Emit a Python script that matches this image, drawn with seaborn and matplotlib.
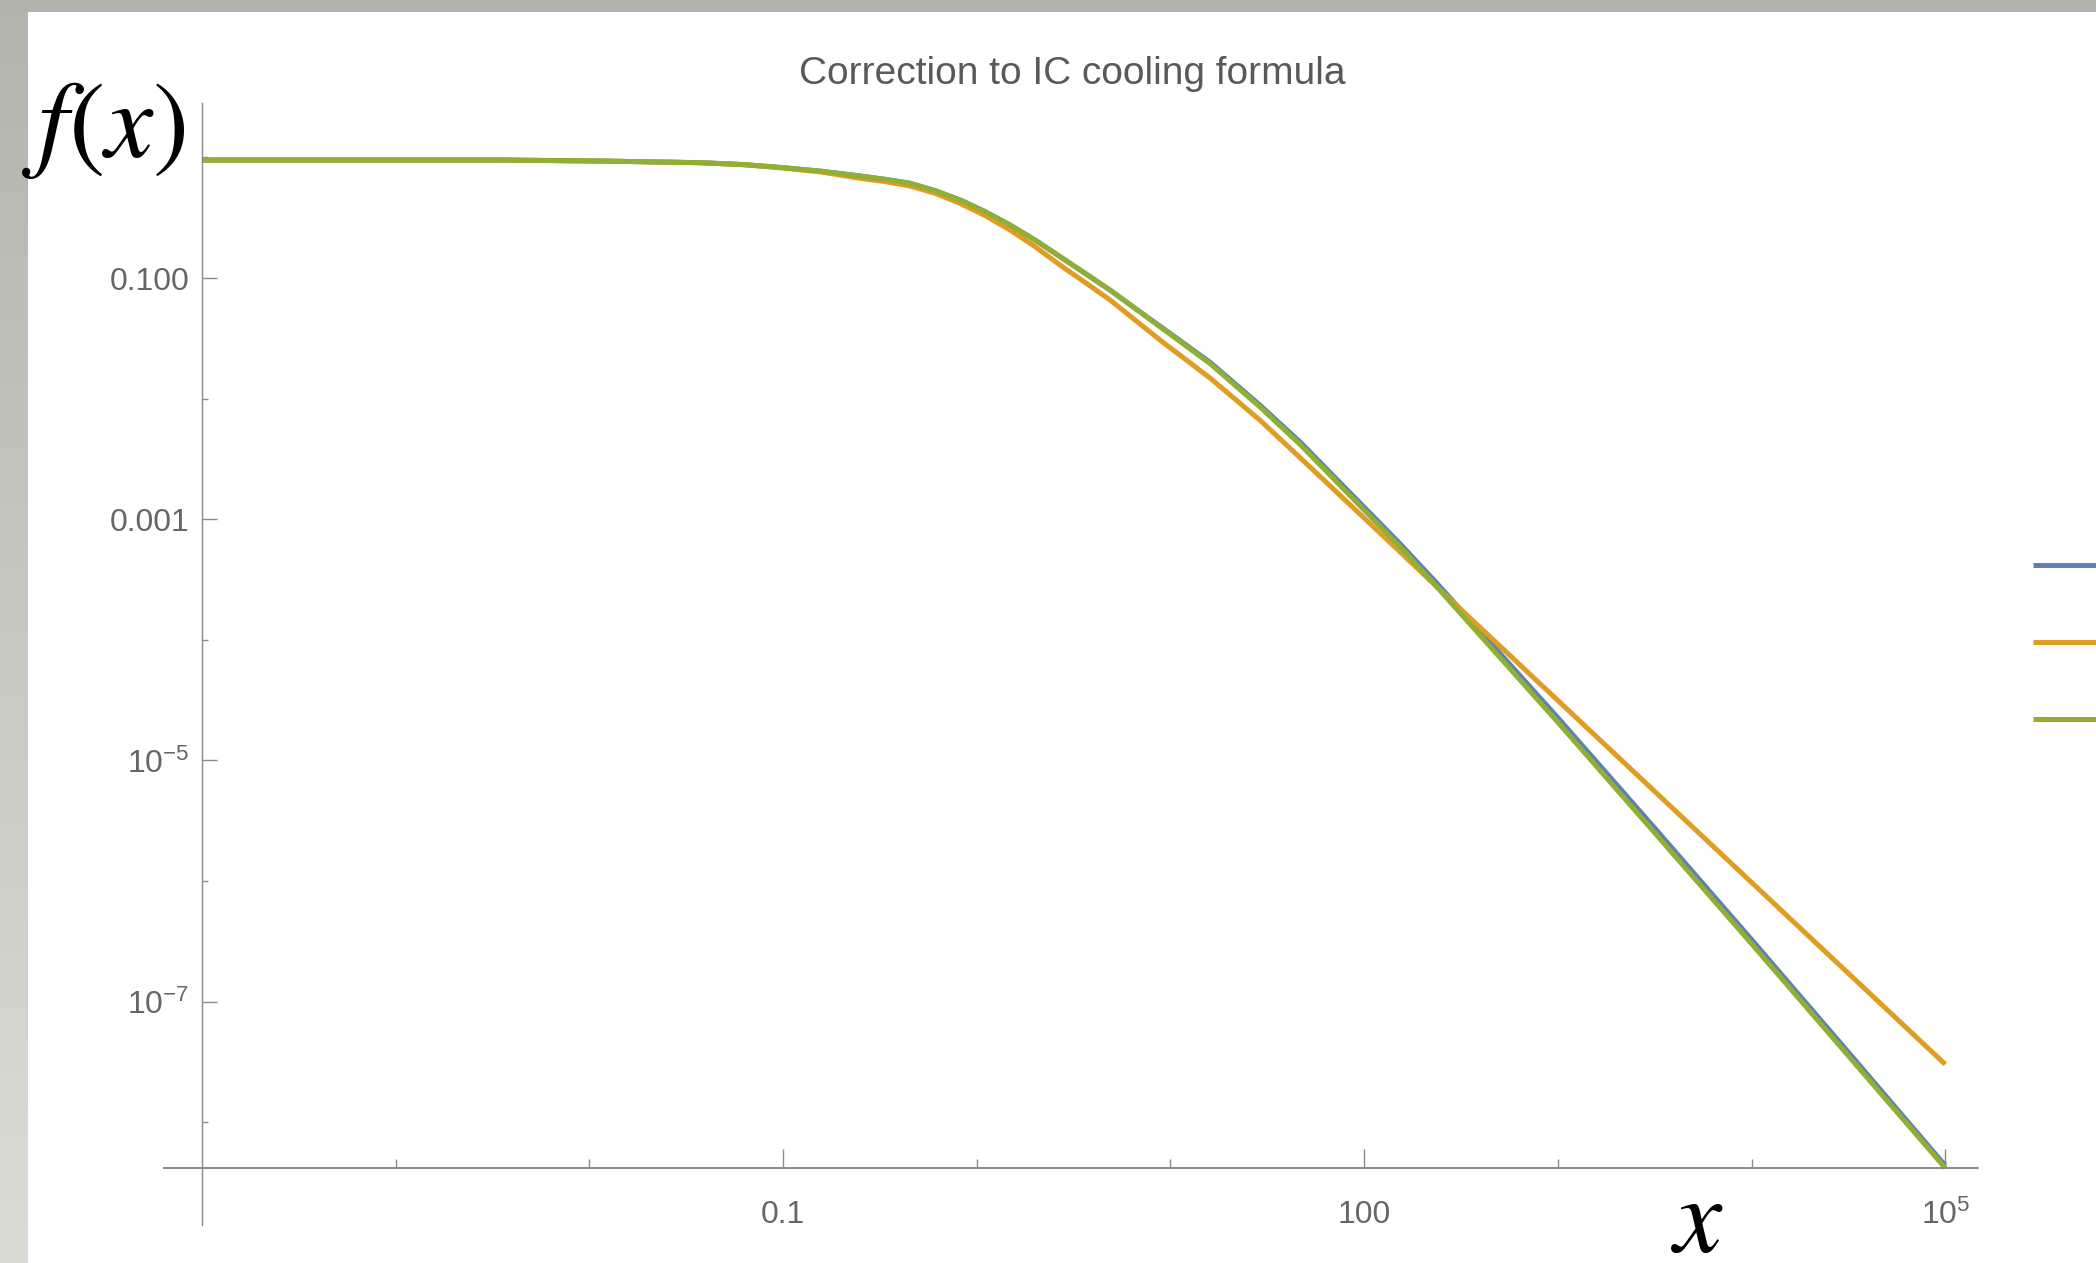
import numpy as np
import pandas as pd
import matplotlib
matplotlib.use("Agg")
import matplotlib.pyplot as plt
import matplotlib.ticker as mticker
import seaborn as sns
from matplotlib.lines import Line2D
from matplotlib.patches import Rectangle
from matplotlib.colors import LinearSegmentedColormap

# ---------------- data ----------------
x_common = [1e-4, 0.00347, 0.01135, 0.0373, 0.0631, 0.1, 0.1585, 0.250, 0.3362, 0.453, 0.609,
            0.820, 1.104, 1.486, 2.000, 2.692, 3.622, 4.875, 6.561, 8.831, 16.02, 29.01, 46.67,
            153.1, 237.1, 1e3, 3162.0, 1e4, 31623.0, 1e5]
f_blue = [0.951, 0.951, 0.933, 0.904, 0.871, 0.822, 0.767, 0.701, 0.658, 0.610, 0.530,
          0.444, 0.355, 0.275, 0.2065, 0.1503, 0.1094, 0.0794, 0.0561, 0.0399, 0.0200, 0.00881, 0.00437,
          6.27e-4, 2.95e-4, 2.26e-5, 2.75e-6, 3.27e-7, 3.80e-8, 4.37e-9]
f_green = [0.951, 0.951, 0.933, 0.904, 0.871, 0.822, 0.767, 0.701, 0.658, 0.610, 0.530,
           0.444, 0.355, 0.275, 0.2065, 0.1503, 0.1094, 0.0794, 0.0561, 0.0394, 0.0195, 0.00851, 0.00417,
           5.92e-4, 2.75e-4, 2.07e-5, 2.51e-6, 3.02e-7, 3.55e-8, 4.17e-9]
x_orange = [1e-4, 0.00347, 0.01135, 0.0373, 0.0631, 0.1, 0.1585, 0.250, 0.3362, 0.453, 0.609,
            0.820, 1.104, 1.486, 2.000, 2.692, 3.622, 4.875, 6.561, 8.831, 16.02, 29.01, 46.67,
            153.1, 237.1, 1786.0, 6607.0, 1e5]
f_orange = [0.951, 0.951, 0.933, 0.904, 0.869, 0.817, 0.755, 0.671, 0.630, 0.579, 0.504,
            0.416, 0.329, 0.250, 0.182, 0.128, 0.0920, 0.0658, 0.0449, 0.0306, 0.0148, 0.00661, 0.00324,
            5.37e-4, 2.75e-4, 1.31e-5, 1.82e-6, 3.02e-8]
series_names = ["curve 1", "curve 2", "curve 3"]
series_colors = ["#5E81B5", "#E19C24", "#8FB032"]

x_ticks_major = [1e-1, 1e2, 1e5]
x_tick_labels = ["0.1", "100", "$10^{5}$"]
x_ticks_minor = [1e-3, 1e-2, 1e0, 1e1, 1e3, 1e4]
y_ticks_major = [1e-1, 1e-3, 1e-5, 1e-7]
y_tick_labels = ["0.100", "0.001", "$10^{-5}$", "$10^{-7}$"]
y_ticks_minor = [1e0, 1e-2, 1e-4, 1e-6, 1e-8]
title_text = "Correction to IC cooling formula"

df = pd.concat([
    pd.DataFrame({"x": x_common, "f": f_blue, "series": series_names[0]}),
    pd.DataFrame({"x": x_orange, "f": f_orange, "series": series_names[1]}),
    pd.DataFrame({"x": x_common, "f": f_green, "series": series_names[2]}),
], ignore_index=True)

# ---------------- style ----------------
sns.set_theme(style="white")
plt.rcParams["font.family"] = ["Liberation Sans", "DejaVu Sans"]
plt.rcParams["mathtext.fontset"] = "custom"
plt.rcParams["mathtext.rm"] = "Liberation Sans"
plt.rcParams["mathtext.it"] = "Liberation Sans:italic"
plt.rcParams["mathtext.bf"] = "Liberation Sans:bold"

W, H = 2096, 1263
fig = plt.figure(figsize=(W / 100, H / 100), dpi=100)
fig.patch.set_facecolor("white")

# background frame (grey strips)
bg = fig.add_axes([0, 0, 28 / W, 1], zorder=-10)
grad = LinearSegmentedColormap.from_list("g", ["#dcdcd5", "#b4b3ac"])
bg.imshow(np.linspace(0, 1, 256).reshape(-1, 1), aspect="auto", cmap=grad, origin="lower",
          extent=[0, 1, 0, 1])
bg.set_axis_off()
fig.patches.append(Rectangle((0, 1 - 12 / H), 1, 12 / H, transform=fig.transFigure,
                             facecolor="#b3b2ab", edgecolor="none", zorder=-9))

# main axes
left_px, right_px, top_px, bottom_px = 164, 1978, 103, 1225
ax = fig.add_axes([left_px / W, 1 - bottom_px / H, (right_px - left_px) / W, (bottom_px - top_px) / H])
ax.set_facecolor("none")
ax.set_xscale("log")
ax.set_yscale("log")

sns.lineplot(data=df, x="x", y="f", hue="series", palette=series_colors,
             hue_order=series_names, linewidth=3.6, legend=False, ax=ax, sort=False)
for ln in ax.lines:
    ln.set_solid_capstyle("butt")
    ln.set_solid_joinstyle("round")

ax.set_xlim(6.37e-5, 1.4757e5)
ax.set_ylim(1.406e-9, 2.825)
ax.set_xlabel("")
ax.set_ylabel("")

axis_col = "#8a8a8a"
for s in ["top", "right"]:
    ax.spines[s].set_visible(False)
ax.spines["left"].set_position(("data", min(x_common)))
ax.spines["bottom"].set_position(("data", min(f_green)))
ax.spines["left"].set_color(axis_col)
ax.spines["bottom"].set_color(axis_col)
ax.spines["left"].set_linewidth(1.0)
ax.spines["bottom"].set_linewidth(1.4)

ax.set_xticks(x_ticks_major, labels=x_tick_labels)
ax.set_xticks(x_ticks_minor, minor=True)
ax.set_yticks(y_ticks_major, labels=y_tick_labels)
ax.set_yticks(y_ticks_minor, minor=True)
ax.xaxis.set_minor_formatter(mticker.NullFormatter())
ax.yaxis.set_minor_formatter(mticker.NullFormatter())

ax.tick_params(axis="x", which="major", direction="in", length=13.5, width=1.0, color=axis_col,
               labelsize=23, labelcolor="#666666", pad=23, bottom=True)
ax.tick_params(axis="x", which="minor", direction="in", length=6.5, width=1.0, color=axis_col, bottom=True)
ax.tick_params(axis="y", which="major", direction="in", length=10.5, width=1.0, color=axis_col,
               labelsize=23, labelcolor="#666666", pad=9, left=True)
ax.tick_params(axis="y", which="minor", direction="in", length=4.5, width=1.0, color=axis_col, left=True)

# title
fig.text(1072 / W, 1 - 84 / H, title_text, ha="center", va="baseline", fontsize=28, color="#595959")

# axis labels (large serif italic)
fig.text(22 / W, 1 - 157 / H, "$f(x)$", ha="left", va="baseline", fontsize=78,
         color="black", math_fontfamily="stix")
fig.text(1671 / W, 1 - 1252 / H, "$x$", ha="left", va="baseline", fontsize=78,
         color="black", math_fontfamily="stix")

# legend swatches (labels fall outside the image, as in the reference)
handles = [Line2D([], [], color=c, linewidth=3.6, solid_capstyle="butt") for c in series_colors]
fig.legend(handles=handles, labels=["", "", ""], loc="upper left",
           bbox_to_anchor=(2033 / W, 1 - 555 / H), frameon=False, fontsize=20,
           handlelength=4, handleheight=0.7, handletextpad=0, borderpad=0, borderaxespad=0,
           labelspacing=1.83)

fig.savefig("out.png", dpi=100)
